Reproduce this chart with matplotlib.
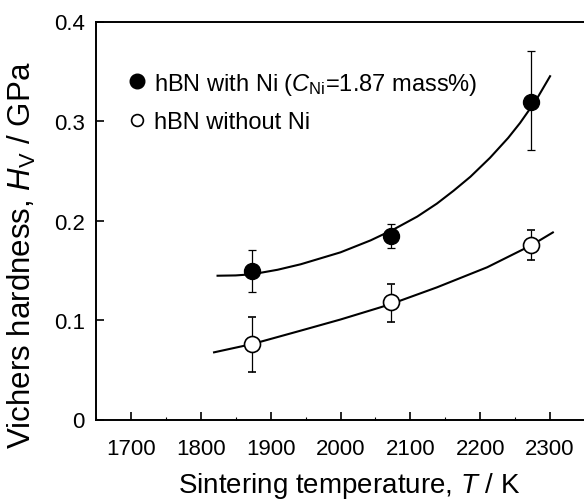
import matplotlib
matplotlib.use('Agg')
import matplotlib.pyplot as plt
from matplotlib.lines import Line2D
from matplotlib.ticker import MultipleLocator

# measured points (sintering temperature / K, Vickers hardness / GPa)
temps = [1873, 2073, 2273]

hv_ni = [0.149, 0.184, 0.319]
hv_ni_lo = [0.1285, 0.172, 0.271]
hv_ni_hi = [0.170, 0.196, 0.370]

hv_no = [0.0756, 0.1178, 0.1754]
hv_no_lo = [0.0474, 0.0977, 0.160]
hv_no_hi = [0.103, 0.136, 0.1908]

# fitted curves
fit_ni_t = [1824, 1850, 1874, 1910, 1943, 2000, 2043, 2076, 2110, 2138, 2162, 2186, 2214, 2240, 2257, 2280, 2300]
fit_ni_hv = [0.1445, 0.1448, 0.146, 0.1505, 0.156, 0.168, 0.180, 0.191, 0.204, 0.217, 0.230, 0.244, 0.263, 0.283, 0.298, 0.321, 0.345]

fit_no_t = [1819, 1874, 1943, 2000, 2057, 2074, 2138, 2210, 2274, 2304]
fit_no_hv = [0.0675, 0.0759, 0.0893, 0.1005, 0.1127, 0.1165, 0.1328, 0.153, 0.1754, 0.188]

xticks = [1700, 1800, 1900, 2000, 2100, 2200, 2300]
yticks = [0, 0.1, 0.2, 0.3, 0.4]
ytick_labels = ['0', '0.1', '0.2', '0.3', '0.4']

plt.rcParams['font.family'] = ['Liberation Sans', 'DejaVu Sans']
plt.rcParams['mathtext.fontset'] = 'custom'
plt.rcParams['mathtext.rm'] = 'Liberation Sans'
plt.rcParams['mathtext.it'] = 'Liberation Sans:italic'

fig = plt.figure(figsize=(5.84, 5.02), dpi=100)
ax = fig.add_axes([96/584, 81.5/502, 489/584, 398/502])

ax.plot(fit_ni_t, fit_ni_hv, color='k', lw=1.5, zorder=2)
ax.plot(fit_no_t, fit_no_hv, color='k', lw=1.5, zorder=2)

err_ni = [[v - l for v, l in zip(hv_ni, hv_ni_lo)], [h - v for v, h in zip(hv_ni, hv_ni_hi)]]
err_no = [[v - l for v, l in zip(hv_no, hv_no_lo)], [h - v for v, h in zip(hv_no, hv_no_hi)]]

ax.errorbar(temps, hv_ni, yerr=err_ni, fmt='o', color='k', ms=11.5,
            elinewidth=0.9, capsize=2.9, capthick=0.9, zorder=3)
ax.errorbar(temps, hv_no, yerr=err_no, fmt='o', color='k', mfc='white', mec='k',
            mew=1.2, ms=11.5, elinewidth=0.9, capsize=2.9, capthick=0.9, zorder=3)

ax.set_xlim(1650, 2350)
ax.set_ylim(0, 0.4)
ax.set_xticks(xticks)
ax.xaxis.set_minor_locator(MultipleLocator(50))
ax.set_yticks(yticks)
ax.set_yticklabels(ytick_labels)

ax.tick_params(which='both', direction='in', top=False, right=False, labelsize=16)
ax.tick_params(which='major', length=6, width=1.2)
ax.tick_params(which='minor', length=2.5, width=0.8)
ax.tick_params(axis='y', pad=8)
ax.tick_params(axis='x', pad=13)
for s in ax.spines.values():
    s.set_linewidth(1.4)
ax.spines['right'].set_visible(False)

ax.set_xlabel('Sintering temperature, $T$ / K', fontsize=20)
ax.set_ylabel('Vichers hardness, $H_\\mathrm{V}$ / GPa', fontsize=22.5)
ax.xaxis.set_label_coords(0.517, -0.127)
ax.yaxis.set_label_coords(-0.118, 0.415)

handles = [Line2D([], [], ls='', marker='o', color='k', ms=10.5),
           Line2D([], [], ls='', marker='o', mfc='white', mec='k', mew=1.2, ms=8.5)]
labels = ['hBN with Ni ($C_\\mathrm{Ni}$=1.87 mass%)', 'hBN without Ni']
ax.legend(handles, labels, loc='upper left', bbox_to_anchor=(0.047, 0.9),
          frameon=False, fontsize=17, handlelength=0.75, handletextpad=0.35,
          labelspacing=0.6, borderaxespad=0)

fig.savefig('out.png', dpi=100)
